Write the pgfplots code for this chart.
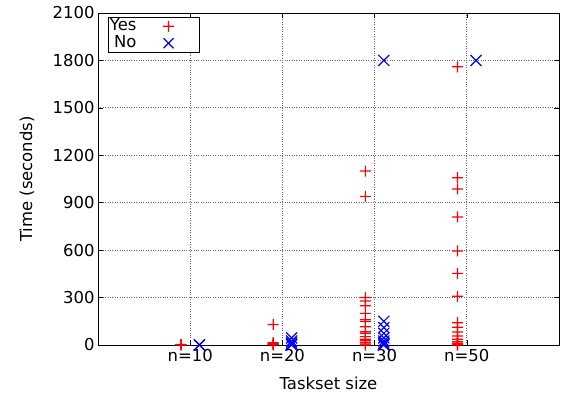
\documentclass[border=0pt]{standalone}
\usepackage{fontspec}
\setmainfont{DejaVu Sans}
\usepackage{pgfplots}
\pgfplotsset{compat=1.18}
\pgfdeclareplotmark{rplus}{%
  \pgfsetfillcolor{red}%
  \pgfpathrectangle{\pgfqpoint{-\pgfplotmarksize}{-0.6pt}}{\pgfqpoint{2\pgfplotmarksize}{1.2pt}}%
  \pgfpathrectangle{\pgfqpoint{-0.6pt}{-\pgfplotmarksize}}{\pgfqpoint{1.2pt}{2\pgfplotmarksize}}%
  \pgfusepathqfill}
\pgfdeclareplotmark{bcross}{%
  \pgfsetstrokecolor{blue}%
  \pgfpathmoveto{\pgfqpoint{-\pgfplotmarksize}{-\pgfplotmarksize}}%
  \pgfpathlineto{\pgfqpoint{\pgfplotmarksize}{\pgfplotmarksize}}%
  \pgfpathmoveto{\pgfqpoint{-\pgfplotmarksize}{\pgfplotmarksize}}%
  \pgfpathlineto{\pgfqpoint{\pgfplotmarksize}{-\pgfplotmarksize}}%
  \pgfusepathqstroke}
\begin{document}
\begin{tikzpicture}[font=\fontsize{16.5}{19}\selectfont]
\path[use as bounding box] (-98bp,-53bp) rectangle (465bp,345bp);
\begin{axis}[
  scale only axis,
  width=461bp, height=332bp,
  at={(0,0)}, anchor=south west,
  xmin=0, xmax=5, ymin=0, ymax=2100,
  xtick={1,2,3,4},
  xticklabels={n=10,n=20,n=30,n=50},
  ytick={0,300,600,900,1200,1500,1800,2100},
  /pgf/number format/assume math mode=true,
  /pgf/number format/1000 sep={},
  tick align=inside,
  major tick length=5bp,
  tick style={black, line width=0.6pt},
  grid=major,
  major grid style={black!60, dotted, line width=0.8pt},
  axis line style={black, line width=0.8pt},
  xlabel={Taskset size},
  ylabel={Time (seconds)},
  every axis x label/.style={at={(axis description cs:0.5,0)}, yshift=-38bp, anchor=center},
  every axis y label/.style={at={(axis description cs:0,0.5)}, xshift=-71bp, rotate=90, anchor=center},
  xticklabel style={yshift=-1bp},
  clip=false,
  legend plot pos=right,
  legend cell align=right,
  legend style={at={(0.022,0.988)}, anchor=north west, draw=black, line width=0.6pt,
    inner sep=1pt, row sep=1bp, font=\fontsize{16.5}{19}\selectfont,
    nodes={inner sep=0.5pt, text height=12bp, text depth=3bp},
    /tikz/every even column/.append style={column sep=0pt}},
]
\addplot[only marks, color=red, mark=rplus, mark size=5.5bp,
  mark options={solid, fill=red, draw=none},
  legend image code/.code={\path[fill=red] plot[mark=rplus, mark size=5.5bp, mark options={fill=red, draw=none}] coordinates {(31bp,0bp)}; \path (0bp,0bp) (60bp,0bp);}]
coordinates {
(0.9,0)(0.9,2)(0.9,4)
(1.9,130)(1.9,15)(1.9,10)(1.9,6)(1.9,3)(1.9,1)
(2.9,1100)(2.9,940)(2.9,300)(2.9,278)(2.9,248)(2.9,200)(2.9,160)(2.9,148)(2.9,116)(2.9,84)(2.9,74)(2.9,53)(2.9,36)(2.9,27)(2.9,15)(2.9,6)(2.9,0)
(3.9,1760)(3.9,1058)(3.9,987)(3.9,810)(3.9,595)(3.9,453)(3.9,308)(3.9,141)(3.9,112)(3.9,82)(3.9,57)(3.9,36)(3.9,21)(3.9,11)(3.9,3)(3.9,0)
};
\addlegendentry{Yes}
\addplot[only marks, color=blue, mark=bcross, mark size=5.5bp, line width=1.2pt,
  mark options={solid, draw=blue},
  legend image code/.code={\draw[blue, line width=1.2pt] plot[mark=bcross, mark size=5bp] coordinates {(31bp,0bp)}; \path (0bp,0bp) (60bp,0bp);}]
coordinates {
(1.1,0)(1.1,1)
(2.1,45)(2.1,25)(2.1,12)(2.1,5)(2.1,0)
(3.1,1800)(3.1,150)(3.1,110)(3.1,74)(3.1,45)(3.1,25)(3.1,12)(3.1,5)(3.1,0)
(4.1,1800)
};
\addlegendentry{No}
\end{axis}
\end{tikzpicture}
\end{document}
